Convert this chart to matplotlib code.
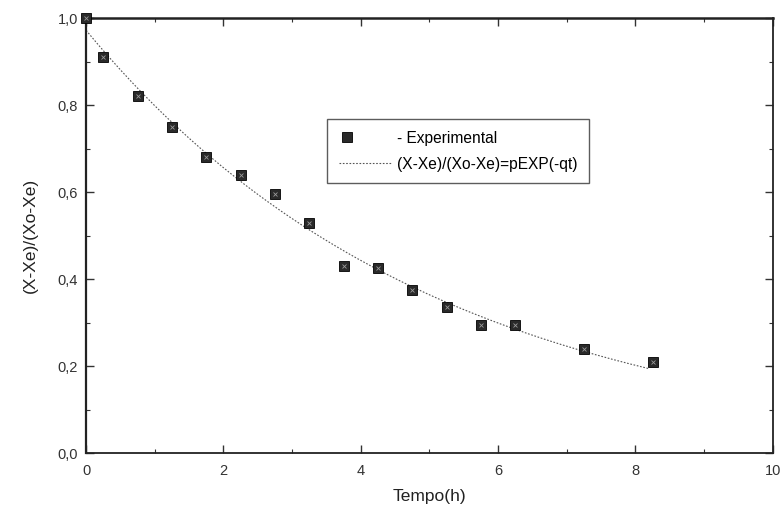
import numpy as np
import matplotlib.pyplot as plt
from matplotlib.ticker import MultipleLocator, FuncFormatter
from matplotlib.legend_handler import HandlerLine2D

plt.rcParams['font.family'] = ['Liberation Sans', 'DejaVu Sans']

# experimental points
tempo = [0, 0.25, 0.75, 1.25, 1.75, 2.25, 2.75, 3.25, 3.75, 4.25, 4.75, 5.25, 5.75, 6.25, 7.25, 8.25]
razao = [1.0, 0.91, 0.82, 0.75, 0.68, 0.64, 0.595, 0.53, 0.43, 0.425, 0.375, 0.335, 0.295, 0.295, 0.24, 0.21]

# fitted model parameters  (X-Xe)/(Xo-Xe) = p*exp(-q*t)
p = 0.972
q = 0.1965
t_fit = np.linspace(0, 8.2, 200)
y_fit = p * np.exp(-q * t_fit)


class LeftMarker(HandlerLine2D):
    # put the legend marker near the left end of the handle box
    def get_xdata(self, legend, xdescent, ydescent, width, height, fontsize):
        x = -xdescent + 0.15 * width
        return np.array([x, x]), np.array([x])


fig = plt.figure(figsize=(7.83, 5.19), dpi=100)
ax = fig.add_axes([0.110, 0.127, 0.877, 0.838])

pts, = ax.plot(tempo, razao, 's', color='#2a2a2a', markersize=6.5, markeredgecolor='black',
               markeredgewidth=0.6, label='- Experimental', clip_on=False, zorder=3)
ax.plot(tempo, razao, 'x', color='#9a9a9a', markersize=3, markeredgewidth=0.6,
        clip_on=False, zorder=4)
ax.plot(t_fit, y_fit, linestyle=(0, (1.5, 1.5)), color='#555555', linewidth=0.8,
        label='(X-Xe)/(Xo-Xe)=pEXP(-qt)')

ax.set_xlim(0, 10)
ax.set_ylim(0, 1.0)
ax.xaxis.set_major_locator(MultipleLocator(2))
ax.xaxis.set_minor_locator(MultipleLocator(1))
ax.yaxis.set_major_locator(MultipleLocator(0.2))
ax.yaxis.set_minor_locator(MultipleLocator(0.1))
ax.xaxis.set_major_formatter(FuncFormatter(lambda v, pos: '%d' % v))
ax.yaxis.set_major_formatter(FuncFormatter(lambda v, pos: ('%.1f' % v).replace('.', ',')))

ax.tick_params(which='both', direction='in', labelsize=10.5, colors='#333333',
               top=True, right=True)
ax.tick_params(which='major', length=6, width=1.0)
ax.tick_params(which='minor', length=3, width=0.8)
ax.tick_params(axis='x', pad=8)
ax.tick_params(axis='y', pad=6)

for s in ax.spines.values():
    s.set_linewidth(1.3)
    s.set_color('#222222')
ax.spines['top'].set_linewidth(1.8)
ax.spines['left'].set_linewidth(1.6)

ax.set_xlabel('Tempo(h)', fontsize=12.5, labelpad=8, color='#222222')
ax.set_ylabel('(X-Xe)/(Xo-Xe)', fontsize=12.5, labelpad=14, color='#222222')

leg = ax.legend(loc='upper left', bbox_to_anchor=(0.340, 0.786), fontsize=11.2,
                frameon=True, fancybox=False, edgecolor='#333333', handlelength=3.4,
                borderpad=0.75, labelspacing=0.7, handletextpad=0.3,
                handler_map={pts: LeftMarker()})
leg.get_frame().set_linewidth(1.0)

fig.savefig('out.png', dpi=100)
